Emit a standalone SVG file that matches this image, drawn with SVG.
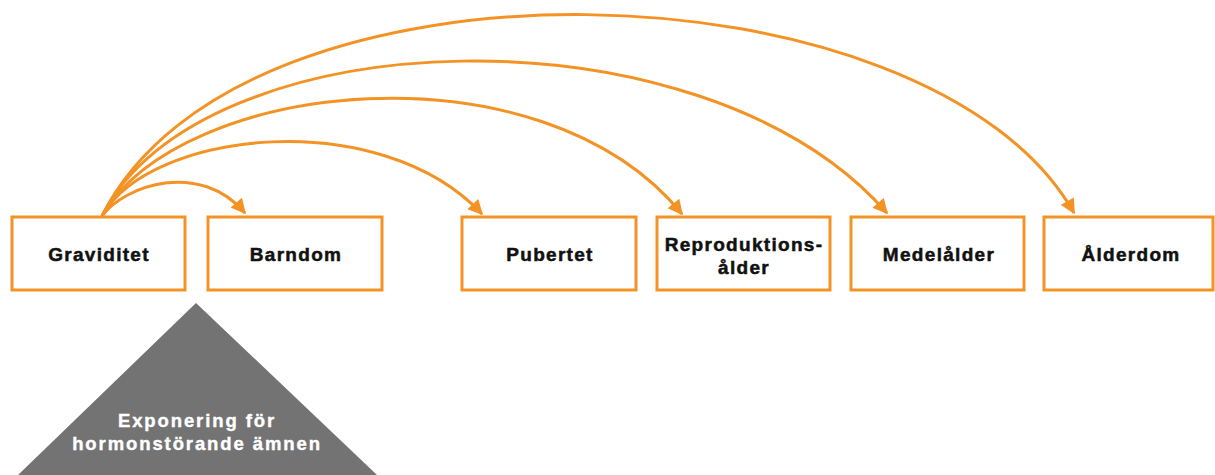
<svg xmlns="http://www.w3.org/2000/svg" width="1215" height="475" viewBox="0 0 1215 475">
<style>
.box{fill:#fff;stroke:#F39325;stroke-width:3}
.lbl{font-family:"Liberation Sans",Arial,sans-serif;font-weight:bold;font-size:19px;letter-spacing:1.3px;fill:#111;stroke:#111;stroke-width:0.5;text-anchor:middle}
.arc{fill:none;stroke:#F39325;stroke-width:3}
.tri{font-family:"Liberation Sans",Arial,sans-serif;font-weight:bold;font-size:18.5px;letter-spacing:1.9px;fill:#fff;stroke:#fff;stroke-width:0.4;text-anchor:middle}
</style>
<defs>
<marker id="ah" viewBox="0 0 10 10" refX="9" refY="5" markerWidth="5.5" markerHeight="5" orient="auto" markerUnits="strokeWidth">
<path d="M0,0 L10,5 L0,10 z" fill="#F39325"/>
</marker>
</defs>
<rect width="1215" height="475" fill="#fff"/>
<g id="connectors">
<path class="arc" marker-end="url(#ah)" d="M102,216 C125,185 200,160 245,213"/>
<path class="arc" marker-end="url(#ah)" d="M102,216 C150,130 380,105 482,214"/>
<path class="arc" marker-end="url(#ah)" d="M102,216 C180,80 540,40 682,214"/>
<path class="arc" marker-end="url(#ah)" d="M102,216 C200,20 700,0 887,213"/>
<path class="arc" marker-end="url(#ah)" d="M102,216 C240,-62 930,-42 1074,213"/>
</g>
<g id="graviditet"><rect class="box" x="12" y="217" width="173" height="73"/><text class="lbl" x="99" y="261">Graviditet</text></g>
<g id="barndom"><rect class="box" x="208" y="217" width="174" height="73"/><text class="lbl" x="296" y="261">Barndom</text></g>
<g id="pubertet"><rect class="box" x="462" y="217" width="174" height="73"/><text class="lbl" x="550" y="261">Pubertet</text></g>
<g id="reproduktionsalder"><rect class="box" x="657" y="217" width="173" height="73"/><text class="lbl" x="744" y="251">Reproduktions-</text><text class="lbl" x="744" y="274">ålder</text></g>
<g id="medelalder"><rect class="box" x="851" y="217" width="173" height="73"/><text class="lbl" x="939" y="261">Medelålder</text></g>
<g id="alderdom"><rect class="box" x="1044" y="217" width="169" height="73"/><text class="lbl" x="1131" y="261">Ålderdom</text></g>
<g id="exponering">
<polygon points="196,303 377,475 18,475" fill="#737373"/>
<text class="tri" x="197" y="427">Exponering för</text>
<text class="tri" x="197" y="450">hormonstörande ämnen</text>
</g>
</svg>
